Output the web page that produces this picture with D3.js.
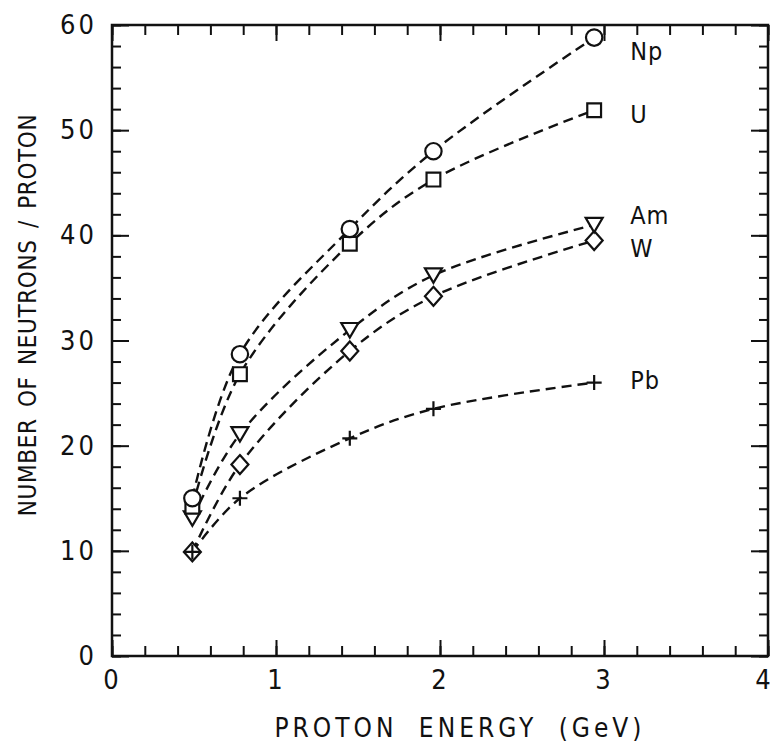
<!DOCTYPE html>
<html>
<head>
<meta charset="utf-8">
<script src="https://cdn.jsdelivr.net/npm/d3@7"></script>
<style>
  body { margin: 0; background: #fff; }
  svg { display: block; }
  text { font-family: "Liberation Sans Narrow", "DejaVu Sans Condensed", "Liberation Sans", sans-serif; fill: #111; }
</style>
</head>
<body>
<div id="chart"></div>
<script>
// Données
const energies = [0.49, 0.78, 1.45, 1.96, 2.94];
const seriesNames = ["W", "Pb", "Am", "U", "Np"];
const npValues = [15.0, 28.7, 40.6, 48.0, 58.8];
const uValues = [14.2, 26.8, 39.2, 45.3, 51.9];
const amValues = [13.1, 21.1, 31.0, 36.2, 41.0];
const wValues = [9.9, 18.2, 29.0, 34.2, 39.5];
const pbValues = [9.9, 15.0, 20.7, 23.5, 26.0];
const markerTypes = ["diamond", "plus", "triangle", "square", "circle"];
const xTicksMajor = [0, 1, 2, 3, 4];
const yTicksMajor = [0, 10, 20, 30, 40, 50, 60];

const valuesByName = { Np: npValues, U: uValues, Am: amValues, W: wValues, Pb: pbValues };
// décalage vertical des étiquettes (px)
const labelDy = { Np: 14, U: 4, Am: -10, W: 8, Pb: -2 };

const width = 776, height = 745;
const x = d3.scaleLinear().domain([0, 4]).range([112, 768]);
const y = d3.scaleLinear().domain([0, 60]).range([656, 25]);

const svg = d3.select("#chart").append("svg")
    .attr("width", width)
    .attr("height", height);

// Axes : graduations vers l'intérieur sur les quatre côtés
function styleAxis(g) {
    g.select(".domain").remove();
    g.selectAll(".tick line").attr("stroke", "#111").attr("stroke-width", 2);
    g.selectAll(".tick text").attr("font-size", 27).attr("letter-spacing", 3).style("font-family", null);
}

const minorX = d3.range(0, 4.001, 0.2).map(v => +v.toFixed(1));
const minorY = d3.range(0, 60.001, 2);

// bas
svg.append("g").attr("transform", `translate(0,${y(0)})`)
    .call(d3.axisBottom(x).tickValues(minorX).tickSize(-10).tickFormat(""))
    .call(styleAxis);
const bottom = svg.append("g").attr("transform", `translate(0,${y(0)})`)
    .call(d3.axisBottom(x).tickValues(xTicksMajor).tickSize(-16).tickPadding(14).tickFormat(d3.format("d")))
    .call(styleAxis);
// le "4" touche le bord droit
bottom.selectAll(".tick text").filter(d => d === 4).attr("dx", -4);
// haut
svg.append("g").attr("transform", `translate(0,${y(60)})`)
    .call(d3.axisTop(x).tickValues(minorX).tickSize(-10).tickFormat(""))
    .call(styleAxis);
svg.append("g").attr("transform", `translate(0,${y(60)})`)
    .call(d3.axisTop(x).tickValues(xTicksMajor).tickSize(-16).tickFormat(""))
    .call(styleAxis);
// gauche
svg.append("g").attr("transform", `translate(${x(0)},0)`)
    .call(d3.axisLeft(y).tickValues(minorY).tickSize(-9).tickFormat(""))
    .call(styleAxis);
svg.append("g").attr("transform", `translate(${x(0)},0)`)
    .call(d3.axisLeft(y).tickValues(yTicksMajor).tickSize(-17).tickPadding(15).tickFormat(d3.format("d")))
    .call(styleAxis);
// droite
svg.append("g").attr("transform", `translate(${x(4)},0)`)
    .call(d3.axisRight(y).tickValues(minorY).tickSize(-9).tickFormat(""))
    .call(styleAxis);
svg.append("g").attr("transform", `translate(${x(4)},0)`)
    .call(d3.axisRight(y).tickValues(yTicksMajor).tickSize(-17).tickFormat(""))
    .call(styleAxis);

// cadre
svg.append("rect")
    .attr("x", x(0)).attr("y", y(60))
    .attr("width", x(4) - x(0)).attr("height", y(0) - y(60))
    .attr("fill", "none").attr("stroke", "#111").attr("stroke-width", 2.5);

// Courbes en tirets
const line = d3.line()
    .x(d => x(d.e))
    .y(d => y(d.v))
    .curve(d3.curveCatmullRom.alpha(0.5));

const series = seriesNames.map((name, i) => ({
    name: name,
    marker: markerTypes[i],
    points: energies.map((e, j) => ({ e: e, v: valuesByName[name][j] }))
}));

svg.append("g").selectAll("path")
    .data(series)
    .join("path")
    .attr("d", d => line(d.points))
    .attr("fill", "none")
    .attr("stroke", "#111")
    .attr("stroke-width", 2.4)
    .attr("stroke-dasharray", "10 6");

// Symboles
const symbolMap = {
    circle: d3.symbolCircle,
    square: d3.symbolSquare
};

function markerPath(type) {
    if (type === "triangle") {
        // triangle pointe en bas
        return "M-8.5,-7L8.5,-7L0,7.5Z";
    }
    if (type === "plus") {
        return "M-7.5,0L7.5,0M0,-7.5L0,7.5";
    }
    if (type === "diamond") {
        return "M0,-9.5L8.5,0L0,9.5L-8.5,0Z";
    }
    const size = { circle: 210, square: 190 }[type];
    return d3.symbol().type(symbolMap[type]).size(size)();
}

series.forEach(s => {
    svg.append("g").selectAll("path")
        .data(s.points)
        .join("path")
        .attr("transform", d => `translate(${x(d.e)},${y(d.v)})`)
        .attr("d", markerPath(s.marker))
        .attr("fill", s.marker === "plus" ? "none" : "#fff")
        .attr("stroke", "#111")
        .attr("stroke-width", 2.2);
});

// Étiquettes des séries
svg.append("g").selectAll("text")
    .data(series)
    .join("text")
    .attr("x", d => x(d.points[d.points.length - 1].e) + 36)
    .attr("y", d => y(d.points[d.points.length - 1].v) + labelDy[d.name])
    .attr("dy", "0.35em")
    .attr("font-size", 25)
    .attr("letter-spacing", 1)
    .text(d => d.name);

// Titres des axes
svg.append("text")
    .attr("x", 460)
    .attr("y", 737)
    .attr("text-anchor", "middle")
    .attr("font-size", 26)
    .attr("letter-spacing", 4)
    .attr("word-spacing", 10)
    .text("PROTON ENERGY (GeV)");

svg.append("text")
    .attr("transform", "translate(36,315) rotate(-90)")
    .attr("text-anchor", "middle")
    .attr("font-size", 24)
    .attr("letter-spacing", 0.6)
    .attr("word-spacing", 4)
    .text("NUMBER OF NEUTRONS / PROTON");
</script>
</body>
</html>
